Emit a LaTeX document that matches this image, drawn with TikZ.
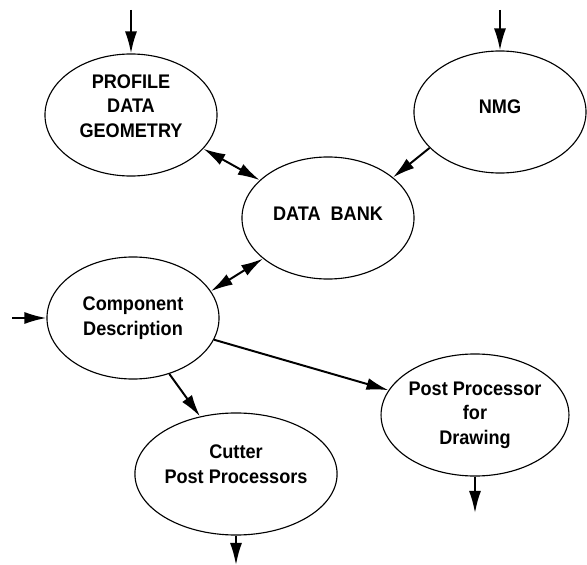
\documentclass[tikz,border=0pt]{standalone}
\usepackage{fontspec}
\newfontfamily\flowfont[FakeStretch=0.92]{Liberation Sans Bold}
\usetikzlibrary{shapes.geometric,arrows.meta}
\newcommand{\descente}[1]{\rule[-#1]{0pt}{#1}}

\begin{document}
\begin{tikzpicture}[x=0.025cm,y=-0.025cm,
    bulle/.style={ellipse,draw,line width=0.8pt,minimum width=4.3cm,minimum height=3.05cm,
      inner sep=0pt,align=center,font=\flowfont\fontsize{14}{17.4}\selectfont},
    fleche/.style={line width=1.4pt,-{Latex[length=5.5mm,width=3mm]}},
    double fleche/.style={line width=1.4pt,{Latex[length=5.5mm,width=3mm]}-{Latex[length=5.5mm,width=3mm]}}]

\useasboundingbox (0,0) rectangle (587,565);

% Bulles
\node[bulle] (profile) at (131,115) {PROFILE\\DATA\\GEOMETRY\descente{13pt}};
\node[bulle] (nmg) at (500,112) {NMG\descente{7pt}};
\node[bulle] (bank) at (328,218) {DATA\ \ BANK\descente{6pt}};
\node[bulle] (comp) at (133,318) {Component\\Description};
\node[bulle] (cutter) at (236,474) {Cutter\\Post Processors\descente{14pt}};
\node[bulle] (drawing) at (475,415) {Post Processor\\for\\Drawing};

% Entrées et sorties
\coordinate (in profile) at (131,10);
\coordinate (in nmg) at (500,10);
\coordinate (in comp) at (12,318);
\coordinate (out cutter) at (236,565);
\coordinate (out drawing) at (475,513);

\draw[fleche] (in profile) -- (profile.north);
\draw[fleche] (in nmg) -- (nmg.north);
\draw[fleche] (in comp) -- (comp.west);
\draw[fleche] (cutter.south) -- (out cutter);
\draw[fleche] (drawing.south) -- (out drawing);

% Liaisons
\draw[double fleche] (profile.-25) -- (bank.151);
\draw[fleche] (nmg.-153) -- (bank.32);
\draw[double fleche] (comp.19) -- (bank.-148);
\draw[fleche] (comp.-15) -- (drawing.164);
\draw[fleche] (comp.-57) -- (cutter.122);

\end{tikzpicture}
\end{document}
